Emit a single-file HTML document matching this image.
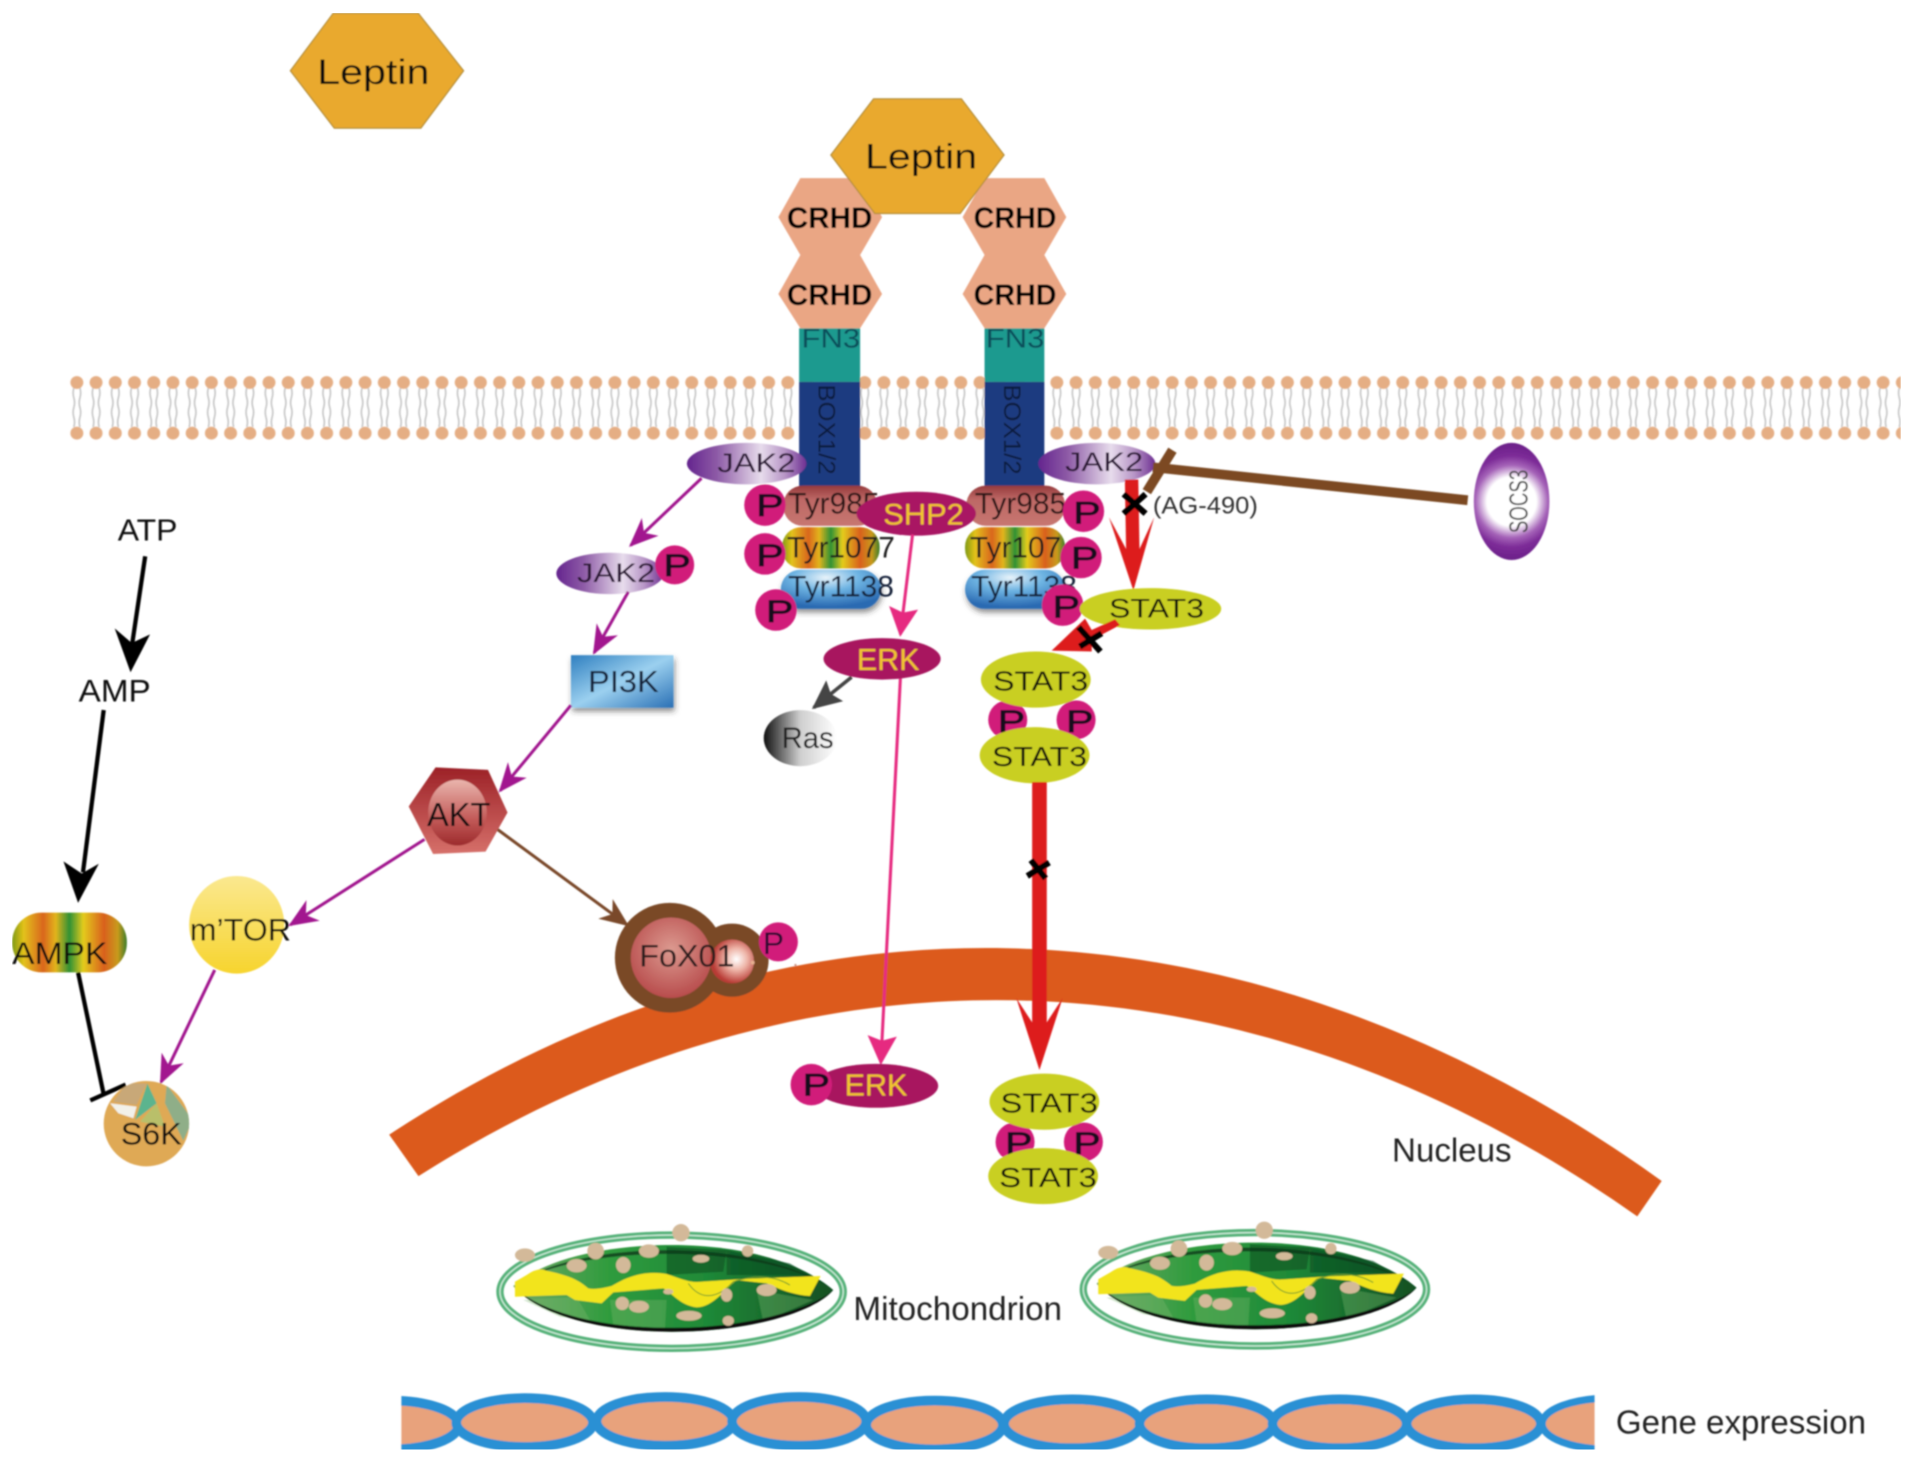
<!DOCTYPE html>
<html><head><meta charset="utf-8"><style>
html,body{margin:0;padding:0;background:#fff;width:1913px;height:1472px;overflow:hidden}
svg{display:block}
text{font-family:"Liberation Sans",sans-serif;fill:#111;text-anchor:middle}
.pt{fill:#120a1c;stroke:#120a1c;stroke-width:.6;font-size:26px}
.pc{fill:#d11c7a}
.st{text-anchor:start}
</style></head><body>
<svg width="1913" height="1472" viewBox="0 0 1568 1206.5" xmlns="http://www.w3.org/2000/svg">
<defs>
<pattern id="mem" patternUnits="userSpaceOnUse" x="-7.875" y="306" width="15.75" height="56">
<path d="M5.4 12q-1.2 4 0 8t0 8 0 8 0 8M10.4 12q1.2 4 0 8t0 8 0 8 0 8" fill="none" stroke="#c4c4c4" stroke-width="1.3"/>
<circle cx="7.875" cy="7.5" r="5.3" fill="#e5ae84"/><circle cx="7.875" cy="49" r="5.3" fill="#e5ae84"/>
</pattern>
<linearGradient id="rain" x1="0" x2="1" y1="0" y2="0">
<stop offset="0" stop-color="#7f9a12"/><stop offset=".1" stop-color="#e3c21a"/><stop offset=".27" stop-color="#d9661a"/><stop offset=".38" stop-color="#e2b41c"/><stop offset=".5" stop-color="#2f9134"/><stop offset=".62" stop-color="#e3cb1d"/><stop offset=".8" stop-color="#d9601c"/><stop offset=".92" stop-color="#c89a1c"/><stop offset="1" stop-color="#3c7d2a"/>
</linearGradient>
<linearGradient id="jak" x1="0" x2="1" y1="0" y2="0">
<stop offset="0" stop-color="#64248e"/><stop offset=".25" stop-color="#8d5aa6"/><stop offset=".62" stop-color="#e7dcec"/><stop offset=".82" stop-color="#b795c6"/><stop offset="1" stop-color="#6d2f92"/>
</linearGradient>
<linearGradient id="tyrr" x1="0" x2="0" y1="0" y2="1"><stop offset="0" stop-color="#963a3c"/><stop offset=".35" stop-color="#bd6865"/><stop offset="1" stop-color="#c77670"/></linearGradient>
<radialGradient id="tyrb" cx=".45" cy=".2" r=".75"><stop offset="0" stop-color="#e8f3fa"/><stop offset=".45" stop-color="#6db3e2"/><stop offset="1" stop-color="#2a6ab2"/></radialGradient>
<linearGradient id="pi" x1="0" x2="1" y1="0" y2="1"><stop offset="0" stop-color="#2f7fc0"/><stop offset=".5" stop-color="#9bd0ef"/><stop offset="1" stop-color="#2a70b5"/></linearGradient>
<linearGradient id="ras" x1="0" x2="1" y1="0" y2="0"><stop offset="0" stop-color="#111"/><stop offset=".5" stop-color="#cfcfcf"/><stop offset="1" stop-color="#fff"/></linearGradient>
<linearGradient id="tor" x1="0" x2="0" y1="0" y2="1"><stop offset="0" stop-color="#fae88f"/><stop offset="1" stop-color="#f7d42e"/></linearGradient>
<linearGradient id="akt" x1="0" x2="0" y1="0" y2="1"><stop offset="0" stop-color="#9c2127"/><stop offset="1" stop-color="#d6706a"/></linearGradient>
<linearGradient id="akti" x1="0" x2="0" y1="0" y2="1"><stop offset="0" stop-color="#eab5ad"/><stop offset=".6" stop-color="#c25a58"/><stop offset="1" stop-color="#9c2a2c"/></linearGradient>
<radialGradient id="fox" cx=".5" cy=".4" r=".6"><stop offset="0" stop-color="#dc9a90"/><stop offset="1" stop-color="#b84c4c"/></radialGradient>
<radialGradient id="fox2" cx=".6" cy=".45" r=".55"><stop offset="0" stop-color="#fff"/><stop offset=".45" stop-color="#eeb5a8"/><stop offset="1" stop-color="#b83a34"/></radialGradient>
<radialGradient id="soc" gradientUnits="userSpaceOnUse" cx="1239" cy="411" r="48"><stop offset="0" stop-color="#fff"/><stop offset=".42" stop-color="#fff"/><stop offset=".62" stop-color="#a563b8"/><stop offset=".78" stop-color="#7d2c98"/><stop offset="1" stop-color="#6a1e88"/></radialGradient>
<linearGradient id="mg" x1="0" x2="1" y1="0" y2="0"><stop offset="0" stop-color="#6fa866"/><stop offset=".3" stop-color="#2f9b3d"/><stop offset=".6" stop-color="#1f8a38"/><stop offset="1" stop-color="#114f22"/></linearGradient>
<filter id="sh" x="-20%" y="-20%" width="140%" height="150%"><feDropShadow dx="1" dy="3" stdDeviation="2.5" flood-color="#333" flood-opacity=".55"/></filter>
<filter id="soft" x="0" y="0" width="100%" height="100%"><feGaussianBlur stdDeviation=".7"/></filter>
<marker id="mp" viewBox="0 0 24 20" refX="22" refY="10" markerUnits="userSpaceOnUse" markerWidth="24" markerHeight="20" orient="auto"><path d="M0 0L24 10L0 20L7 10Z" fill="#a2148f"/></marker>
<marker id="mb" viewBox="0 0 24 20" refX="22" refY="10" markerUnits="userSpaceOnUse" markerWidth="24" markerHeight="20" orient="auto"><path d="M0 0L24 10L0 20L7 10Z" fill="#7a4a2a"/></marker>
<marker id="mk" viewBox="0 0 24 24" refX="22" refY="12" markerUnits="userSpaceOnUse" markerWidth="24" markerHeight="24" orient="auto"><path d="M0 0L24 12L0 24L4 12Z" fill="#e62a80"/></marker>
<marker id="mg2" viewBox="0 0 24 22" refX="22" refY="11" markerUnits="userSpaceOnUse" markerWidth="24" markerHeight="22" orient="auto"><path d="M0 0L24 11L0 22L4 11Z" fill="#444"/></marker>
<clipPath id="dnac"><rect x="329" y="1130" width="978" height="70"/></clipPath>
<clipPath id="s6c"><circle cx="120" cy="921" r="35"/></clipPath>
<g id="mito">
<ellipse cx="575" cy="275" rx="515" ry="170" fill="none" stroke="#57b27a" stroke-width="22"/>
<ellipse cx="575" cy="275" rx="515" ry="170" fill="none" stroke="#d2eede" stroke-width="4"/>
<path d="M100 258C200 170 400 135 575 135C760 135 950 175 1060 270C1000 340 800 395 575 395C350 395 170 340 100 258Z" fill="url(#mg)"/>
<path d="M130 300L290 290L330 360L240 350ZM390 300L560 300L555 385L400 375ZM830 270L1000 300L850 365Z" fill="#7ab86f" opacity=".35"/>
<path d="M560 140L740 150L730 215L560 225ZM740 150L930 190L990 225L740 225Z" fill="#0a4a20" opacity=".55"/>
<path d="M100 258C170 340 350 395 575 395C800 395 1000 340 1060 270C1000 325 800 385 575 383C350 385 170 330 100 258Z" fill="#111"/>
<path d="M110 250C300 120 820 110 1050 262C820 125 300 135 110 250Z" fill="#103a1c" opacity=".8"/>
<path d="M105 245L140 225Q175 200 200 212C260 225 290 235 325 265Q350 270 395 258C450 225 500 212 560 222C600 235 620 245 650 246L800 236L1022 228L990 288C940 285 900 268 860 250L770 240C740 262 700 322 650 322C600 315 580 282 550 265L400 277L365 310L285 300L260 285L105 290Z" fill="#f2e41e"/>
<path d="M625 250C660 300 710 300 760 245C820 225 880 225 930 255" fill="none" stroke="#6f9a2e" stroke-width="3"/>
<g fill="#d3b999">
<ellipse cx="135" cy="165" rx="30" ry="20"/><circle cx="347" cy="153" r="25"/><circle cx="603" cy="98" r="26"/><ellipse cx="290" cy="197" rx="30" ry="20"/><ellipse cx="507" cy="153" rx="30" ry="20"/><ellipse cx="430" cy="195" rx="22" ry="24"/><ellipse cx="663" cy="176" rx="25" ry="12"/><circle cx="803" cy="153" r="17"/><ellipse cx="860" cy="270" rx="30" ry="18"/><ellipse cx="740" cy="285" rx="17" ry="20"/><circle cx="427" cy="310" r="20"/><ellipse cx="477" cy="320" rx="30" ry="18"/><ellipse cx="627" cy="347" rx="38" ry="15"/><ellipse cx="745" cy="362" rx="17" ry="15"/><ellipse cx="565" cy="275" rx="15" ry="8"/>
</g>
</g>
</defs>
<rect width="1568" height="1206.5" fill="#fff"/>
<g filter="url(#soft)">

<!-- membrane -->
<rect x="57" y="306" width="1501" height="56" fill="url(#mem)"/>

<!-- nucleus -->
<path d="M319 930C660 706 1040 736 1362 968L1342 997C1030 777 670 757 343 964Z" fill="#dc5a1c"/>

<!-- free leptin -->
<polygon points="238,58 273,11 343,11 380,58 345,105 274,105" fill="#e9a92f" stroke="#b58f3a"/>
<text x="306" y="69" font-size="29" textLength="92" lengthAdjust="spacingAndGlyphs">Leptin</text>

<!-- receptor -->
<rect x="655" y="269" width="50" height="44" fill="#1a9a8f"/>
<rect x="655" y="313" width="50" height="88" fill="#1b3a80"/>
<rect x="807" y="269" width="49" height="44" fill="#1a9a8f"/>
<rect x="807" y="313" width="49" height="88" fill="#1b3a80"/>
<polygon points="638,178 656,146 705,146 723,178 705,209 723,241 705,269 656,269 638,241 656,209" fill="#eaa684"/>
<polygon points="789,178 807,146 856,146 874,178 856,209 874,241 856,269 807,269 789,241 807,209" fill="#eaa684"/>
<polygon points="681,127 716,81 788,81 823,127 787,175 717,175" fill="#e9a92f" stroke="#b58f3a"/>
<text x="755" y="138" font-size="29" textLength="92" lengthAdjust="spacingAndGlyphs">Leptin</text>
<g font-size="24">
<text x="680" y="187" textLength="70" lengthAdjust="spacingAndGlyphs" style="font-weight:bold;fill:#000">CRHD</text>
<text x="680" y="250" textLength="70" lengthAdjust="spacingAndGlyphs" style="font-weight:bold;fill:#000">CRHD</text>
<text x="832" y="187" textLength="68" lengthAdjust="spacingAndGlyphs" style="font-weight:bold;fill:#000">CRHD</text>
<text x="832" y="250" textLength="68" lengthAdjust="spacingAndGlyphs" style="font-weight:bold;fill:#000">CRHD</text>
</g>
<text x="681" y="285" font-size="22" style="fill:#0e4d5a" textLength="48" lengthAdjust="spacingAndGlyphs">FN3</text>
<text x="832" y="285" font-size="22" style="fill:#0e4d5a" textLength="48" lengthAdjust="spacingAndGlyphs">FN3</text>
<text transform="translate(671,352) rotate(90)" font-size="20" style="fill:#0d1a3c" textLength="74" lengthAdjust="spacingAndGlyphs">BOX1/2</text>
<text transform="translate(823,352) rotate(90)" font-size="20" style="fill:#0d1a3c" textLength="74" lengthAdjust="spacingAndGlyphs">BOX1/2</text>

<!-- Tyr segments -->
<rect x="642" y="398" width="77" height="33" rx="16" fill="url(#tyrr)"/>
<rect x="792" y="398" width="81" height="33" rx="16" fill="url(#tyrr)"/>
<rect x="641" y="432" width="80" height="34" rx="16" fill="url(#rain)"/>
<rect x="791" y="432" width="82" height="34" rx="16" fill="url(#rain)"/>
<rect x="640" y="467" width="82" height="32" rx="16" fill="url(#tyrb)" filter="url(#sh)"/>
<rect x="791" y="467" width="82" height="32" rx="16" fill="url(#tyrb)" filter="url(#sh)"/>
<g font-size="24.5">
<text class="st" x="646" y="421" style="fill:#2a1414">Tyr985</text>
<text class="st" x="799" y="421" style="fill:#2a1414">Tyr985</text>
<text class="st" x="645" y="457" style="fill:#1a1a1a">Tyr1077</text>
<text class="st" x="795" y="457" style="fill:#1a1a1a">Tyr107</text>
<text class="st" x="646" y="489" style="fill:#16233a">Tyr1138</text>
<text class="st" x="796" y="489" style="fill:#16233a">Tyr1138</text>
</g>

<!-- JAK2 -->
<ellipse cx="612" cy="380" rx="49" ry="17" fill="url(#jak)"/>
<ellipse cx="899" cy="380" rx="48" ry="17" fill="url(#jak)"/>
<text x="620" y="387" font-size="22" style="fill:#2a1535" textLength="64" lengthAdjust="spacingAndGlyphs">JAK2</text>
<text x="905" y="386" font-size="22" style="fill:#2a1535" textLength="64" lengthAdjust="spacingAndGlyphs">JAK2</text>

<!-- SHP2 -->
<ellipse cx="751" cy="421" rx="49" ry="18" fill="#a91764"/>
<text x="757" y="430" font-size="24" style="fill:#f2c52e" textLength="66" lengthAdjust="spacingAndGlyphs">SHP2</text>

<!-- P on receptor -->
<circle class="pc" cx="627" cy="414" r="17"/><text class="pt" transform="translate(631,423) scale(1.3,1)">P</text>
<circle class="pc" cx="627" cy="454" r="17"/><text class="pt" transform="translate(631,464) scale(1.3,1)">P</text>
<circle class="pc" cx="636" cy="500" r="17"/><text class="pt" transform="translate(639,510) scale(1.3,1)">P</text>
<circle class="pc" cx="888" cy="419" r="17"/><text class="pt" transform="translate(891,429) scale(1.3,1)">P</text>
<circle class="pc" cx="886" cy="457" r="17"/><text class="pt" transform="translate(889,466) scale(1.3,1)">P</text>
<circle class="pc" cx="871" cy="496" r="17"/><text class="pt" transform="translate(874,506) scale(1.3,1)">P</text>

<!-- SOCS3 -->
<path d="M945 383L1203 410" stroke="#7b4a22" stroke-width="8" fill="none"/>
<path d="M961 369L940 403" stroke="#7b4a22" stroke-width="8" fill="none"/>
<ellipse cx="1239" cy="411" rx="31" ry="48" fill="url(#soc)"/>
<text transform="translate(1252,411) rotate(-90)" font-size="21" style="fill:#444" textLength="52" lengthAdjust="spacingAndGlyphs">SOCS3</text>

<!-- red JAK2 to STAT3 -->
<path d="M922 393H933L934 450L946 424L929 484L909 424L923 450Z" fill="#dd1c1c"/>
<path d="M921 405L939 421M939 405L921 421" stroke="#000" stroke-width="5"/>
<text x="945" y="421" font-size="20" style="text-anchor:start;fill:#333" textLength="86" lengthAdjust="spacingAndGlyphs">(AG-490)</text>

<!-- STAT3 group -->
<ellipse cx="943" cy="499" rx="58" ry="17" fill="#c9cf21"/>
<text x="948" y="506" font-size="22" textLength="78" lengthAdjust="spacingAndGlyphs">STAT3</text>
<polygon points="889.4,507 862,533.3 894.8,534 894.8,524.6 918,512.3 914,507.6 894.8,516.4" fill="#dd1c1c"/>
<path d="M884 514L902 534M885 530L903 519" stroke="#000" stroke-width="5"/>
<circle class="pc" cx="826" cy="590" r="16"/><text class="pt" transform="translate(829,600) scale(1.3,1)">P</text>
<circle class="pc" cx="882" cy="590" r="16"/><text class="pt" transform="translate(885,600) scale(1.3,1)">P</text>
<ellipse cx="849" cy="557" rx="45" ry="23" fill="#c9cf21"/>
<ellipse cx="848" cy="619" rx="45" ry="23" fill="#c9cf21"/>
<text x="853" y="566" font-size="23" textLength="78" lengthAdjust="spacingAndGlyphs">STAT3</text>
<text x="852" y="628" font-size="23" textLength="78" lengthAdjust="spacingAndGlyphs">STAT3</text>

<!-- long red arrow -->
<path d="M846 641H858V838L871 818L852 877L833 818L846 838Z" fill="#dd1c1c"/>
<path d="M842 718L860 707M845 705L857 720" stroke="#000" stroke-width="5"/>

<circle class="pc" cx="832" cy="936" r="16"/><text class="pt" transform="translate(835,946) scale(1.3,1)">P</text>
<circle class="pc" cx="888" cy="936" r="16"/><text class="pt" transform="translate(891,946) scale(1.3,1)">P</text>
<ellipse cx="856" cy="903" rx="45" ry="23" fill="#c9cf21"/>
<ellipse cx="855" cy="964" rx="45" ry="23" fill="#c9cf21"/>
<text x="860" y="912" font-size="23" textLength="80" lengthAdjust="spacingAndGlyphs">STAT3</text>
<text x="859" y="973" font-size="23" textLength="80" lengthAdjust="spacingAndGlyphs">STAT3</text>

<!-- ERK -->
<path d="M748 438L738 520" stroke="#e62a80" stroke-width="2.5" marker-end="url(#mk)" fill="none"/>
<path d="M738 556L722 871" stroke="#e62a80" stroke-width="2.5" marker-end="url(#mk)" fill="none"/>
<path d="M698 555L667 580" stroke="#444" stroke-width="3" marker-end="url(#mg2)" fill="none"/>
<ellipse cx="723" cy="540" rx="48" ry="17" fill="#a8175e"/>
<text x="728" y="549" font-size="25" style="fill:#f2c52e">ERK</text>
<ellipse cx="656" cy="605" rx="30" ry="23" fill="url(#ras)"/>
<text x="662" y="613" font-size="24" style="fill:#222">Ras</text>
<ellipse cx="718" cy="890" rx="51" ry="18" fill="#a8175e"/>
<circle class="pc" cx="665" cy="889" r="17"/><text class="pt" transform="translate(669,898) scale(1.3,1)">P</text>
<text x="718" y="898" font-size="25" style="fill:#f2c52e">ERK</text>

<!-- left pathway -->
<path d="M575 392L517 447" stroke="#a2148f" stroke-width="2.5" marker-end="url(#mp)" fill="none"/>
<ellipse cx="500" cy="470" rx="44" ry="17" fill="url(#jak)"/>
<text x="505" y="477" font-size="22" style="fill:#2a1535" textLength="64" lengthAdjust="spacingAndGlyphs">JAK2</text>
<circle class="pc" cx="553" cy="463" r="16"/><text class="pt" transform="translate(555,472) scale(1.3,1)">P</text>
<path d="M515 485L487 535" stroke="#a2148f" stroke-width="2.5" marker-end="url(#mp)" fill="none"/>
<rect x="468" y="537" width="84" height="43" fill="url(#pi)" filter="url(#sh)"/>
<text x="511" y="567" font-size="25" style="fill:#14223a" textLength="58" lengthAdjust="spacingAndGlyphs">PI3K</text>
<path d="M468 578L410 648" stroke="#a2148f" stroke-width="2.5" marker-end="url(#mp)" fill="none"/>
<polygon points="335,661 357,629 400,631 416,666 398,698 355,700" fill="url(#akt)"/>
<ellipse cx="375" cy="666" rx="24" ry="27" fill="url(#akti)"/>
<text x="376" y="677" font-size="27" textLength="52" lengthAdjust="spacingAndGlyphs">AKT</text>
<path d="M348 688L238 758" stroke="#a2148f" stroke-width="2.5" marker-end="url(#mp)" fill="none"/>
<path d="M408 680L514 758" stroke="#7a4a2a" stroke-width="2.5" marker-end="url(#mb)" fill="none"/>

<ellipse cx="194" cy="758" rx="39" ry="40" fill="url(#tor)"/>
<text x="197" y="771" font-size="26" textLength="83" lengthAdjust="spacingAndGlyphs">m’TOR</text>
<path d="M176 795L132 887" stroke="#a2148f" stroke-width="2.5" marker-end="url(#mp)" fill="none"/>

<!-- FoxO1 -->
<circle cx="600" cy="787" r="30" fill="#7a4a28"/>
<circle cx="549" cy="785" r="45" fill="#7a4a28"/>
<circle cx="550" cy="785" r="33" fill="url(#fox)"/>
<circle cx="600" cy="788" r="18" fill="url(#fox2)"/>
<text x="563" y="792" font-size="26" style="fill:#2a1c1c" textLength="78" lengthAdjust="spacingAndGlyphs">FoX01</text>
<circle class="pc" cx="638" cy="772" r="16"/><text x="634" y="782" font-size="26" style="fill:#2a1030">P</text>
<circle cx="617" cy="789" r="1.5" fill="#e8b090"/><circle cx="652" cy="791" r="1" fill="#c98"/>

<!-- ATP -->
<text x="121" y="443" font-size="25" textLength="49" lengthAdjust="spacingAndGlyphs">ATP</text>
<text x="94" y="575" font-size="26" textLength="59" lengthAdjust="spacingAndGlyphs">AMP</text>
<path d="M119 456L108 530" stroke="#000" stroke-width="3.5" fill="none"/>
<path d="M94 515L108 527L123 520L107 551Z" fill="#000"/>
<path d="M85 582L68 715" stroke="#000" stroke-width="3.5" fill="none"/>
<path d="M52 706L67 716L81 708L64 740Z" fill="#000"/>
<rect x="10" y="748" width="94" height="49" rx="24" fill="url(#rain)"/>
<text x="49" y="790" font-size="26" textLength="78" lengthAdjust="spacingAndGlyphs">AMPK</text>
<path d="M64 797L85 897" stroke="#000" stroke-width="3.5" fill="none"/>
<path d="M74 902L103 889" stroke="#000" stroke-width="3.5" fill="none"/>

<!-- S6K -->
<circle cx="120" cy="921" r="35" fill="#dfa955"/>
<g clip-path="url(#s6c)">
<polygon points="92.9,903 103.8,888 120.2,888 112,905.7" fill="#c8a878"/>
<polygon points="90.2,904.3 112,907 109.3,916.6 97,912.5" fill="#f2f1ea"/>
<polygon points="114.8,919.3 128.4,904.3 135.2,923.4" fill="#b9bf6a"/>
<polygon points="110.7,918 120.8,888 128.4,904.3" fill="#5cb48e"/>
<polygon points="136.6,889 158,918 150.2,935 135.2,904.3" fill="#8fae88"/>
</g>
<text x="124" y="938" font-size="26" textLength="50" lengthAdjust="spacingAndGlyphs">S6K</text>

<!-- mitochondria -->
<use href="#mito" transform="translate(393.4,983.6) scale(.2732)"/>
<use href="#mito" transform="translate(871.5,981.6) scale(.2732)"/>

<!-- DNA -->
<g clip-path="url(#dnac)" fill="#e8a27c" stroke="#2a90d4" stroke-width="8">
<ellipse cx="320" cy="1168" rx="56" ry="20"/>
<ellipse cx="430" cy="1166" rx="56" ry="20"/>
<ellipse cx="545" cy="1165" rx="56" ry="20"/>
<ellipse cx="655" cy="1165" rx="55" ry="20"/>
<ellipse cx="766" cy="1168" rx="56" ry="20"/>
<ellipse cx="879" cy="1167" rx="56" ry="20"/>
<ellipse cx="989" cy="1167" rx="55" ry="20"/>
<ellipse cx="1098" cy="1167" rx="55" ry="20"/>
<ellipse cx="1208" cy="1167" rx="55" ry="20"/>
<ellipse cx="1320" cy="1167" rx="56" ry="21" stroke-width="6"/>
</g>

<!-- labels -->
<text x="1190" y="952" font-size="27" style="fill:#222" textLength="98" lengthAdjust="spacingAndGlyphs">Nucleus</text>
<text x="785" y="1082" font-size="27" style="fill:#222" textLength="171" lengthAdjust="spacingAndGlyphs">Mitochondrion</text>
<text x="1427" y="1175" font-size="27" style="fill:#222" textLength="205" lengthAdjust="spacingAndGlyphs">Gene expression</text>
</g>
</svg>
</body></html>
